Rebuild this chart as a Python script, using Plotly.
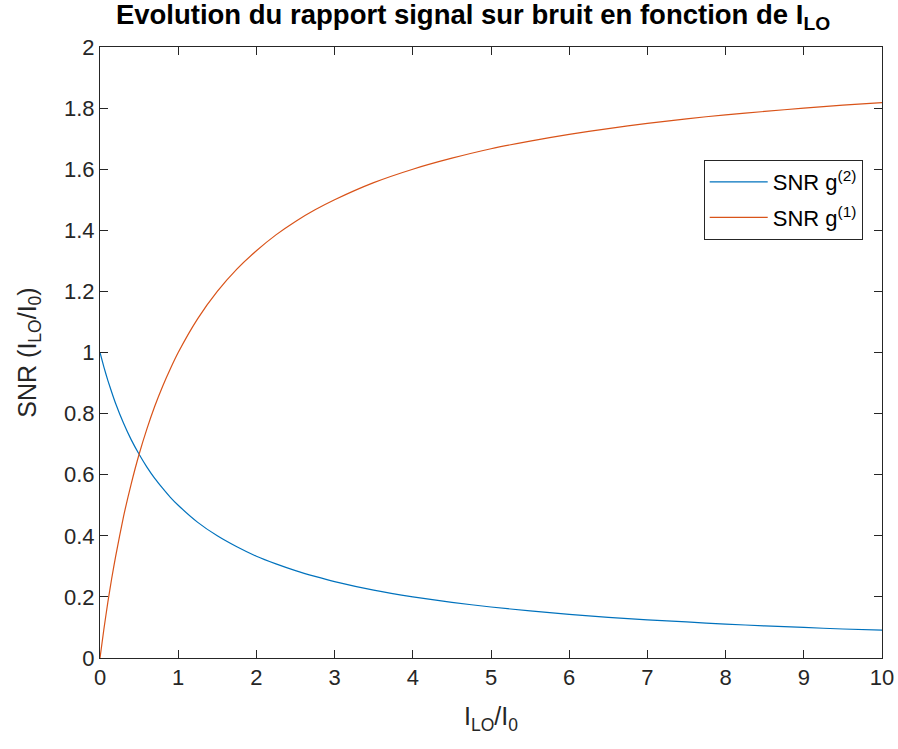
import plotly.graph_objects as go

# Values
x_vals = [0, 0.05, 0.1, 0.15, 0.2, 0.3, 0.4, 0.5, 0.6, 0.7, 0.8, 0.9, 1, 1.25, 1.5, 1.75, 2, 2.25, 2.5, 2.75,
          3, 3.5, 4, 4.5, 5, 5.5, 6, 6.5, 7, 7.5, 8, 8.5, 9, 9.5, 10]
snr_g2 = [1.0, 0.952, 0.909, 0.870, 0.833, 0.769, 0.714, 0.667, 0.625, 0.588, 0.556, 0.526, 0.5, 0.444, 0.4,
          0.364, 0.333, 0.308, 0.286, 0.267, 0.25, 0.222, 0.2, 0.182, 0.167, 0.154, 0.143, 0.133, 0.125, 0.118,
          0.111, 0.105, 0.1, 0.095, 0.091]
snr_g1 = [0.0, 0.095, 0.182, 0.261, 0.333, 0.462, 0.571, 0.667, 0.75, 0.824, 0.889, 0.947, 1.0, 1.111, 1.2,
          1.273, 1.333, 1.385, 1.429, 1.467, 1.5, 1.556, 1.6, 1.636, 1.667, 1.692, 1.714, 1.733, 1.75, 1.765,
          1.778, 1.789, 1.8, 1.81, 1.818]

x_ticks = [0, 1, 2, 3, 4, 5, 6, 7, 8, 9, 10]
y_ticks = [0, 0.2, 0.4, 0.6, 0.8, 1, 1.2, 1.4, 1.6, 1.8, 2]
y_tick_text = ["0", "0.2", "0.4", "0.6", "0.8", "1", "1.2", "1.4", "1.6", "1.8", "2"]

FONT = "Liberation Sans, Arial, sans-serif"
AX = "#262626"

fig = go.Figure()
fig.add_trace(go.Scatter(x=x_vals, y=snr_g2, mode="lines", name="SNR g<sup>(2)</sup>", legendgroup="a",
                         line=dict(color="#0072BD", width=1.2, shape="spline", smoothing=0.5)))
fig.add_trace(go.Scatter(x=x_vals, y=snr_g1, mode="lines", name="SNR g<sup>(1)</sup>", legendgroup="b",
                         line=dict(color="#D95319", width=1.2, shape="spline", smoothing=0.5)))

axis_common = dict(showline=True, linecolor=AX, linewidth=1, mirror="ticks", ticks="inside",
                   ticklen=8, tickcolor=AX, tickwidth=1, showgrid=False, zeroline=False,
                   automargin=False,
                   tickfont=dict(family=FONT, size=22, color=AX))

fig.update_layout(
    width=898, height=749,
    margin=dict(l=100, r=16, t=47, b=91, autoexpand=False),
    paper_bgcolor="white", plot_bgcolor="white",
    title=dict(text="<b>Evolution du rapport signal sur bruit en fonction de I<sub>LO</sub></b>",
               x=0.477, xanchor="center", xref="paper", y=0.981, yanchor="middle",
               font=dict(family=FONT, size=27.5, color="black")),
    xaxis=dict(range=[0, 10], tickvals=x_ticks, ticktext=[str(v) for v in x_ticks],
               title=dict(text="I<sub>LO</sub>/I<sub>0</sub>", font=dict(family=FONT, size=25, color=AX), standoff=18),
               **axis_common),
    yaxis=dict(range=[0, 2], tickvals=y_ticks, ticktext=y_tick_text,
               title=dict(text="SNR (I<sub>LO</sub>/I<sub>0</sub>)", font=dict(family=FONT, size=25, color=AX), standoff=20),
               **axis_common),
    legend=dict(x=0.772, y=0.815, xanchor="left", yanchor="top",
                bgcolor="white", bordercolor=AX, borderwidth=1,
                font=dict(family=FONT, size=22, color="black"),
                tracegroupgap=4, itemwidth=58),
    showlegend=True,
)

fig.write_html("out.html", config={"displayModeBar": False},
               post_script="document.body.style.margin='0';")
